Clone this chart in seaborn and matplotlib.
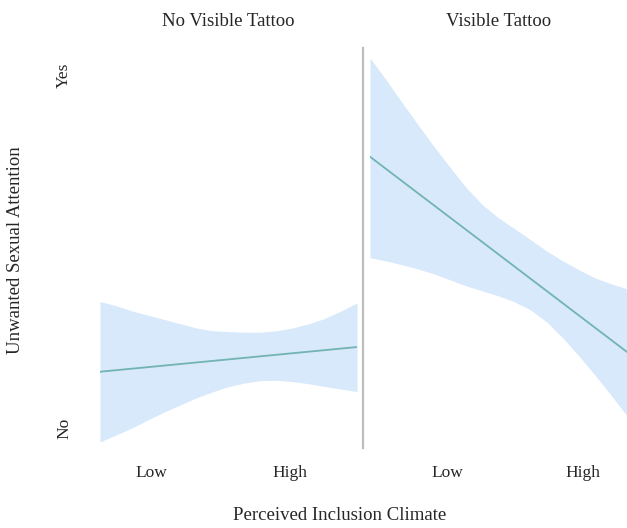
import numpy as np
import pandas as pd
import seaborn as sns
import matplotlib.pyplot as plt

# x position along the climate scale (0 = panel left edge, 1 = right edge)
band_x = [i / 16 for i in range(17)]
line_x = [0.0, 1.0]

# No visible tattoo
nv_fit = [0.159, 0.229]
nv_upper = [0.358, 0.346, 0.331, 0.319, 0.307, 0.295, 0.283, 0.275, 0.273,
            0.271, 0.271, 0.275, 0.283, 0.295, 0.310, 0.331, 0.354]
nv_lower = [-0.040, -0.020, 0.000, 0.023, 0.045, 0.065, 0.085, 0.102, 0.117,
            0.127, 0.134, 0.135, 0.131, 0.125, 0.117, 0.110, 0.103]

# Visible tattoo
v_fit = [0.768, 0.215]
v_upper = [1.048, 0.986, 0.921, 0.858, 0.796, 0.737, 0.680, 0.632, 0.595,
           0.564, 0.533, 0.501, 0.473, 0.448, 0.425, 0.408, 0.394]
v_lower = [0.482, 0.473, 0.462, 0.450, 0.436, 0.419, 0.402, 0.388, 0.374,
           0.357, 0.334, 0.300, 0.255, 0.204, 0.150, 0.093, 0.034]

panels = ["No Visible Tattoo", "Visible Tattoo"]
tick_pos = [[0.20, 0.74], [0.30, 0.83]]
tick_labels = ["Low", "High"]
y_labels = ["No", "Yes"]

sns.set_theme(style="white")
plt.rcParams['font.family'] = ['Liberation Serif', 'DejaVu Serif']

line_col = "#72b3b3"
band_col = "#d7e9fb"

fig = plt.figure(figsize=(6.27, 5.28), dpi=100)
ax1 = fig.add_axes([100/627, 80/528, 257/627, 400/528])
ax2 = fig.add_axes([370/627, 80/528, 257/627, 400/528])

series = [(nv_fit, nv_lower, nv_upper), (v_fit, v_lower, v_upper)]
for i, (ax, (fit, lo, hi)) in enumerate(zip([ax1, ax2], series)):
    band = pd.DataFrame({"x": band_x, "lo": lo, "hi": hi})
    fit_df = pd.DataFrame({"x": line_x, "fit": fit})
    ax.fill_between(band["x"], band["lo"], band["hi"], color=band_col, lw=0)
    sns.lineplot(data=fit_df, x="x", y="fit", ax=ax, color=line_col, lw=1.3)
    ax.set_xlim(0, 1)
    ax.set_ylim(-0.057, 1.076)
    ax.set_xticks(tick_pos[i])
    ax.set_xticklabels(tick_labels, fontsize=12.5)
    ax.tick_params(axis="x", length=0, pad=12)
    ax.set_xlabel("")
    ax.set_ylabel("")
    ax.set_title(panels[i], fontsize=13.5, pad=16)
    for s in ["top", "right", "bottom", "left"]:
        ax.spines[s].set_visible(False)

ax1.set_yticks([0, 1])
ax1.set_yticklabels(y_labels, rotation=90, va="center", fontsize=12.5)
ax1.tick_params(axis="y", length=0, pad=20)
ax2.set_yticks([])

ax2.spines["left"].set_visible(True)
ax2.spines["left"].set_color("#bdbdbd")
ax2.spines["left"].set_linewidth(1.6)
ax2.spines["left"].set_position(("outward", 5))

fig.text(16/627, 1 - 250/528, "Unwanted Sexual Attention", rotation=90,
         ha="center", va="center", fontsize=13.5)
fig.text(340/627, 1 - 515/528, "Perceived Inclusion Climate",
         ha="center", va="center", fontsize=13.5)

plt.savefig("out.png", dpi=100)
